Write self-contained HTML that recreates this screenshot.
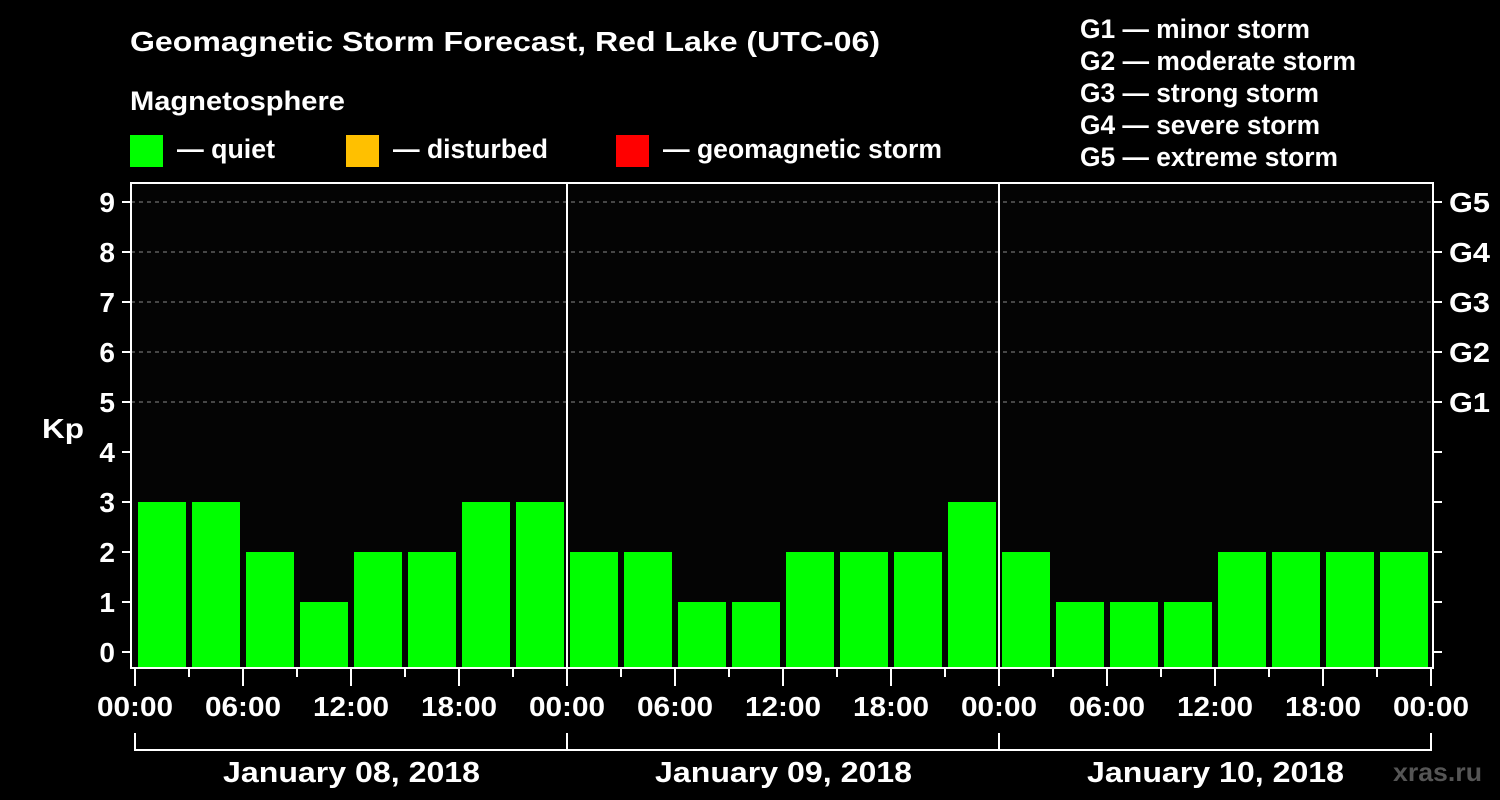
<!DOCTYPE html>
<html><head><meta charset="utf-8"><style>
html,body{margin:0;padding:0;background:#000;}
svg{display:block;font-family:"Liberation Sans",Arial,sans-serif;font-weight:bold;}
</style></head><body>
<svg id="chart" width="1500" height="800" viewBox="0 0 1500 800">
<rect x="0" y="0" width="1500" height="800" fill="#000"/>
<text x="130" y="51" fill="#fff" font-size="28" textLength="750" lengthAdjust="spacingAndGlyphs">Geomagnetic Storm Forecast, Red Lake (UTC-06)</text>
<text x="130" y="110" fill="#fff" font-size="27" textLength="215" lengthAdjust="spacingAndGlyphs">Magnetosphere</text>
<g><rect x="130" y="135" width="33" height="32" fill="#00ff00"/><text x="177" y="158" fill="#fff" font-size="27" textLength="98" lengthAdjust="spacingAndGlyphs">— quiet</text></g>
<g><rect x="346" y="135" width="33" height="32" fill="#ffc000"/><text x="393" y="158" fill="#fff" font-size="27" textLength="155" lengthAdjust="spacingAndGlyphs">— disturbed</text></g>
<g><rect x="616" y="135" width="33" height="32" fill="#ff0000"/><text x="663" y="158" fill="#fff" font-size="27" textLength="279" lengthAdjust="spacingAndGlyphs">— geomagnetic storm</text></g>
<g fill="#fff" font-size="27" lengthAdjust="spacingAndGlyphs">
<text x="1080" y="38" textLength="230" lengthAdjust="spacingAndGlyphs">G1 — minor storm</text>
<text x="1080" y="70" textLength="276" lengthAdjust="spacingAndGlyphs">G2 — moderate storm</text>
<text x="1080" y="102" textLength="239" lengthAdjust="spacingAndGlyphs">G3 — strong storm</text>
<text x="1080" y="134" textLength="240" lengthAdjust="spacingAndGlyphs">G4 — severe storm</text>
<text x="1080" y="166" textLength="258" lengthAdjust="spacingAndGlyphs">G5 — extreme storm</text>
</g>
<rect x="131" y="183" width="1302" height="485" fill="#040404"/>
<g id="grid"></g>
<g id="bars"></g>
<g id="axes"></g>
<text x="42" y="438" fill="#fff" font-size="28" textLength="42" lengthAdjust="spacingAndGlyphs">Kp</text>
<text x="1393" y="781" fill="#555" font-size="26" textLength="89" lengthAdjust="spacingAndGlyphs">xras.ru</text>
</svg>
<script>
const kpValues = [3,3,2,1,2,2,3,3, 2,2,1,1,2,2,2,3, 2,1,1,1,2,2,2,2];
const dayLabels = ["January 08, 2018","January 09, 2018","January 10, 2018"];
const timeLabels = ["00:00","06:00","12:00","18:00"];
const yTicks = [0,1,2,3,4,5,6,7,8,9];
const gLabels = ["G1","G2","G3","G4","G5"];

const NS="http://www.w3.org/2000/svg";
const X0=135, DAYW=432, SLOT=54;
const xs = i => X0 + i*SLOT;
const ys = v => 652 - v*50;
function mk(tag, attrs, parent){const e=document.createElementNS(NS,tag);for(const k in attrs)e.setAttribute(k,attrs[k]);parent.appendChild(e);return e;}
const grid=document.getElementById('grid'), bars=document.getElementById('bars'), axes=document.getElementById('axes');

for(let k=5;k<=9;k++){
  const l=mk('line',{x1:131,x2:1433,y1:ys(k),y2:ys(k),stroke:'#888','stroke-dasharray':'4,4','stroke-width':1},grid);
  
  
}
kpValues.forEach((v,i)=>{
  const col = v>=5?'#ff0000':(v>=4?'#ffc000':'#00ff00');
  const r=mk('rect',{x:xs(i)+3,y:ys(v),width:SLOT-6,height:668-ys(v),fill:col},bars);
  
  
});
const fr=mk('rect',{x:131,y:183,width:1302,height:485,fill:'none',stroke:'#fff','stroke-width':2},axes);


for(let d=1;d<dayLabels.length;d++){
  const l=mk('line',{x1:X0+d*DAYW,x2:X0+d*DAYW,y1:183,y2:668,stroke:'#fff','stroke-width':2},axes);
  
  
}
yTicks.forEach(k=>{
  mk('line',{x1:122,x2:131,y1:ys(k),y2:ys(k),stroke:'#fff','stroke-width':2},axes);
  mk('line',{x1:1433,x2:1442,y1:ys(k),y2:ys(k),stroke:'#fff','stroke-width':2},axes);
  const t=mk('text',{x:115,y:ys(k)+10,fill:'#fff','font-size':28,'text-anchor':'end'},axes);
  t.textContent=k;
  
  
});
gLabels.forEach((g,i)=>{
  const t=mk('text',{x:1449,y:ys(5+i)+10,fill:'#fff','font-size':28,textLength:41,lengthAdjust:'spacingAndGlyphs'},axes);
  t.textContent=g;
  
  
});
const nSlots=dayLabels.length*8;
for(let i=0;i<=nSlots;i++){
  const major=i%2===0;
  mk('line',{x1:xs(i),x2:xs(i),y1:668,y2:major?686:677,stroke:'#fff','stroke-width':2},axes);
  if(major){
    const t=mk('text',{x:xs(i)-38,y:716,fill:'#fff','font-size':28,textLength:76,lengthAdjust:'spacingAndGlyphs'},axes);
    t.textContent=timeLabels[(i/2)%4];
    
    
  }
}
mk('path',{d:`M${X0} 733 V750 H${X0+DAYW*dayLabels.length} V733`,fill:'none',stroke:'#fff','stroke-width':2},axes);
dayLabels.forEach((d,i)=>{
  mk('line',{x1:X0+i*DAYW,x2:X0+i*DAYW,y1:733,y2:750,stroke:'#fff','stroke-width':2},axes);
  const t=mk('text',{x:X0+i*DAYW+DAYW/2-128,y:782,fill:'#fff','font-size':29,textLength:257,lengthAdjust:'spacingAndGlyphs'},axes);
  t.textContent=d;
  
  
});
</script>
</body></html>
